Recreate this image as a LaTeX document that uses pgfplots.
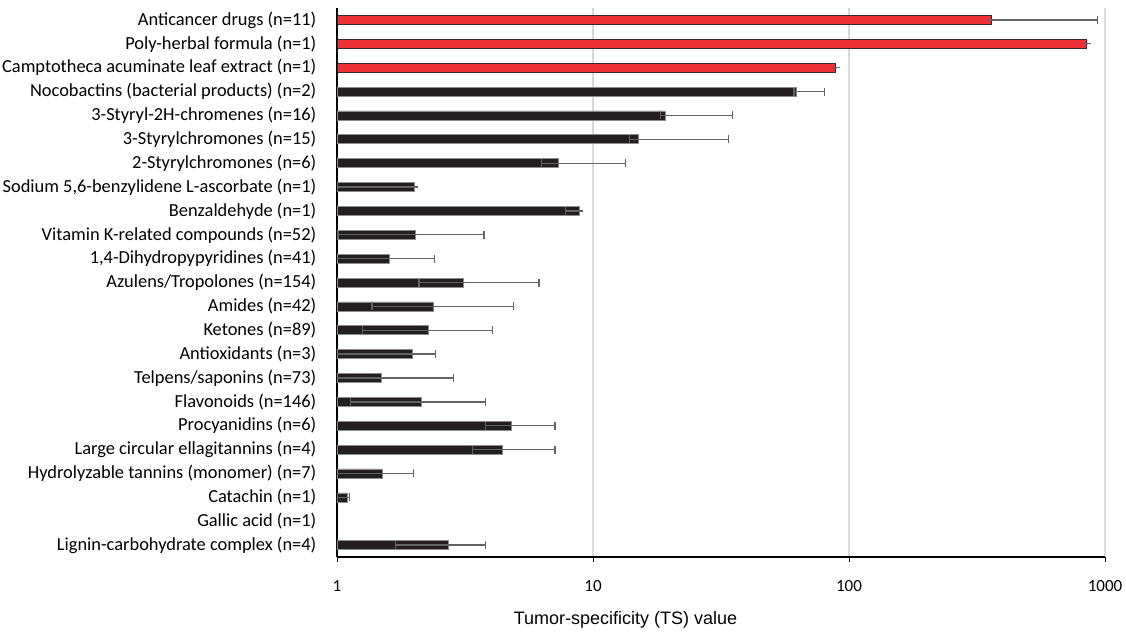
\documentclass[border=0pt]{standalone}
\usepackage{pgfplots}
\pgfplotsset{compat=1.18}
\usepackage{pgfplotstable}
\usepackage{fontspec}
\setmainfont{Carlito}
\newfontfamily\arialfont{Liberation Sans}

\definecolor{barred}{HTML}{EE3137}
\definecolor{rededge}{HTML}{3A2626}
\definecolor{barblack}{HTML}{231F20}
\definecolor{blackedge}{HTML}{8C8C8C}
\definecolor{errgray}{HTML}{636363}
\definecolor{gridgray}{HTML}{D9D9D9}

% TS value, distance to upper and lower whisker
\pgfplotstableread{
idx ts    plus  minus
0   361   575   0
1   848   0     0
2   88.7  0     0
}\redgroups

\pgfplotstableread{
idx ts    plus  minus
3   62.5  17.9  1.5
4   19.1  15.9  0.8
5   15.0  18.8  1.1
6   7.32  6.08  1.02
7   2.00  0     1.0
8   8.82  0     1.0
9   2.02  1.73  1.01
10  1.60  0.80  0.7
11  3.11  3.04  1.02
12  2.38  2.50  1.01
13  2.27  1.77  1.01
14  1.97  0.46  1.0
15  1.49  1.36  0.6
16  2.14  1.67  1.01
17  4.81  2.29  1.0
18  4.42  2.68  1.03
19  1.50  0.49  0.6
20  1.10  0.02  0.1
22  2.71  1.10  1.02
}\blackgroups

\begin{document}
\begin{tikzpicture}
\useasboundingbox (0,0) rectangle (1126pt,635pt);
\begin{axis}[
  at={(337pt,78pt)}, anchor=south west,
  scale only axis, width=768pt, height=549pt,
  xmode=log, log basis x=10, xmin=1, xmax=1000,
  ymin=-0.5, ymax=22.5, y dir=reverse,
  axis x line*=bottom, axis y line*=left,
  axis line style={black, line width=2pt},
  xtick={1,10,100,1000}, xticklabels={1,10,100,1000},
  tick align=outside, major tick length=4.5pt, minor tick length=4.5pt,
  xtick style={black, line width=1pt},
  xmajorgrids, major x grid style={gridgray, line width=1.5pt},
  xticklabel style={font=\fontsize{17}{20}\selectfont, inner sep=0pt, yshift=-19pt},
  /pgf/number format/assume math mode=true,
  ytick={0,...,22},
  ytick style={draw=none},
  yticklabels={
    Anticancer drugs (n=11),
    Poly-herbal formula (n=1),
    Camptotheca acuminate leaf extract (n=1),
    Nocobactins (bacterial products) (n=2),
    3-Styryl-2H-chromenes (n=16),
    3-Styrylchromones (n=15),
    2-Styrylchromones (n=6),
    {Sodium 5,6-benzylidene L-ascorbate (n=1)},
    Benzaldehyde (n=1),
    Vitamin K-related compounds (n=52),
    {1,4-Dihydropypyridines (n=41)},
    Azulens/Tropolones (n=154),
    Amides (n=42),
    Ketones (n=89),
    Antioxidants (n=3),
    Telpens/saponins (n=73),
    Flavonoids (n=146),
    Procyanidins (n=6),
    Large circular ellagitannins (n=4),
    Hydrolyzable tannins (monomer) (n=7),
    Catachin (n=1),
    Gallic acid (n=1),
    Lignin-carbohydrate complex (n=4)},
  yticklabel style={font=\fontsize{18.4}{21}\selectfont, inner sep=0pt, xshift=-16pt},
  xlabel={\arialfont Tumor-specificity (TS) value},
  xlabel style={font=\fontsize{18}{21}\selectfont, at={(axis description cs:0.3757,0)}, anchor=center, yshift=-63pt},
]
\addplot[xbar, bar width=9pt, bar shift=0pt, fill=barred, draw=rededge, line width=0.8pt,
  error bars/.cd, x dir=both, x explicit, error mark=|,
  error bar style={errgray, line width=1.3pt},
  error mark options={errgray, line width=1.3pt, mark size=4pt}]
  table[x=ts, y=idx, x error plus=plus, x error minus=minus]{\redgroups};
\addplot[xbar, bar width=9pt, bar shift=0pt, fill=barblack, draw=blackedge, line width=0.6pt,
  error bars/.cd, x dir=both, x explicit, error mark=|,
  error bar style={errgray, line width=1.3pt},
  error mark options={errgray, line width=1.3pt, mark size=4pt}]
  table[x=ts, y=idx, x error plus=plus, x error minus=minus]{\blackgroups};
\end{axis}
\end{tikzpicture}
\end{document}
